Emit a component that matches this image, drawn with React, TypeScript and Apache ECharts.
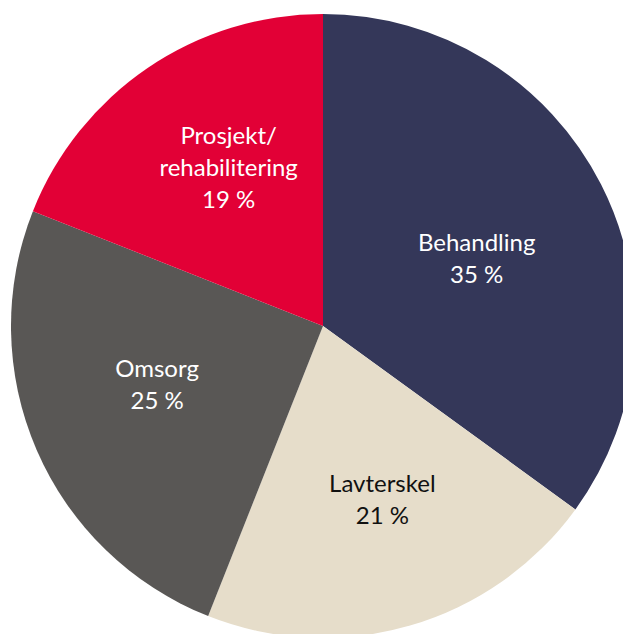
import React, { useEffect, useRef } from "react";
import * as echarts from "echarts";

const categories = ["Behandling", "Lavterskel", "Omsorg", "Prosjekt/\nrehabilitering"];
const values = [35, 21, 25, 19];
const colors = ["#343759", "#E6DDCA", "#595755", "#E20036"];
const labelColors = ["#ffffff", "#111111", "#ffffff", "#ffffff"];
const labelOffsets = [[12, 4], [15, 20], [-20, -6], [-5, -28]];

export default function App() {
  const ref = useRef<HTMLDivElement>(null);
  useEffect(() => {
    document.body.style.margin = "0";
    const chart = echarts.init(ref.current!, undefined, { renderer: "svg" });
    chart.setOption({
      animation: false,
      series: [
        {
          type: "pie",
          center: [323, 326],
          radius: [0, 312],
          startAngle: 90,
          clockwise: true,
          silent: true,
          label: {
            show: true,
            position: "inside",
            fontFamily: "Lato",
            fontSize: 24,
            lineHeight: 32,
            align: "center",
            formatter: (p: any) => `${p.name}\n${p.value} %`,
          },
          labelLine: { show: false },
          data: categories.map((c, i) => ({
            name: c,
            value: values[i],
            itemStyle: { color: colors[i] },
            label: { color: labelColors[i], offset: labelOffsets[i] },
          })),
        },
      ],
    });
    return () => chart.dispose();
  }, []);
  return <div ref={ref} style={{ position: "absolute", left: 0, top: 0, width: 623, height: 634 }} />;
}
